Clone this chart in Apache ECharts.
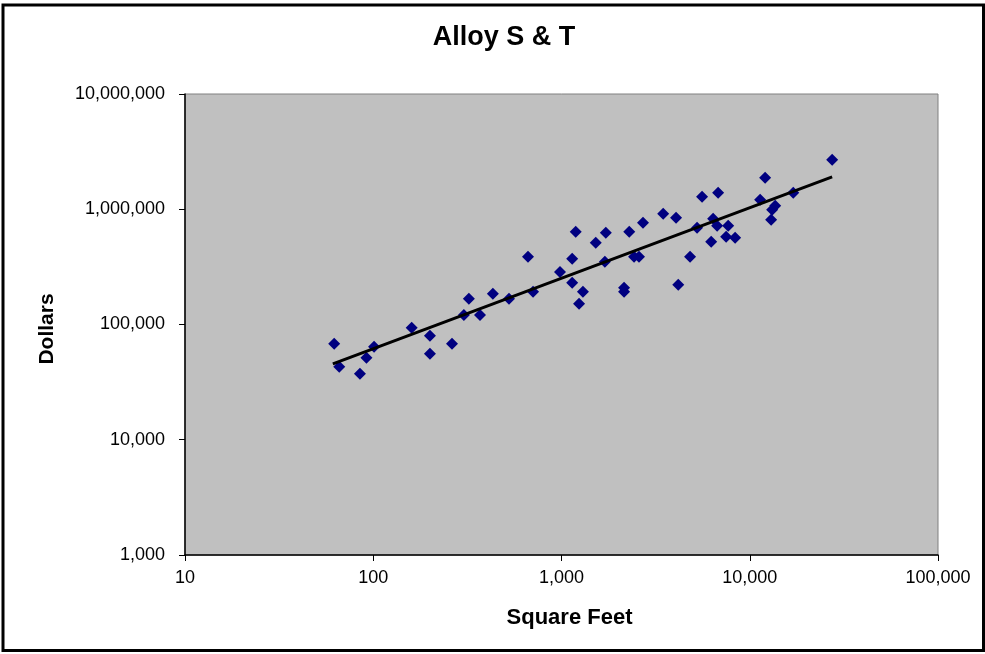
<!DOCTYPE html>
<html>
<head>
<meta charset="utf-8">
<title>Alloy S & T</title>
<script src="https://cdn.jsdelivr.net/npm/echarts@6/dist/echarts.min.js"></script>
<style>
  html, body { margin: 0; padding: 0; background: #fff; }
  #chart { width: 985px; height: 654px; }
</style>
</head>
<body>
<div id="chart"></div>
<script>
// square feet / dollars
var sqft = [62, 66, 85, 92, 101, 160, 200, 200, 262, 303, 322, 369, 432, 526, 664, 706,
  982, 1140, 1140, 1300, 1240, 1190, 1520, 1720, 1700, 2150, 2150, 2290, 2430, 2580,
  2710, 3470, 4060, 4170, 4820, 5250, 5580, 6240, 6390, 6790, 6710, 7680, 7490, 8360,
  11350, 12070, 13650, 13150, 12990, 17030, 27400];
var dollars = [68000, 43000, 37300, 51400, 64000, 93500, 79800, 55700, 68000, 121000, 167000,
  121000, 185000, 167000, 387000, 192000, 286000, 372000, 230000, 192000, 151000, 638000,
  512000, 625000, 350000, 208000, 192000, 638000, 387000, 387000, 764000, 914000, 843000,
  221000, 387000, 691000, 1283000, 522000, 827000, 1390000, 720000, 720000, 577000, 566000,
  1209000, 1877000, 1072000, 991000, 811000, 1390000, 2692000];
// power trendline ends
var trendX = [61, 27400];
var trendY = [45600, 1910000];

var fontFam = '"Liberation Sans", Arial, sans-serif';

function fmt(v) {
  return Math.round(v).toLocaleString('en-US');
}

var pts = [];
for (var i = 0; i < sqft.length; i++) {
  pts.push([sqft[i], dollars[i]]);
}
var trend = [];
for (var j = 0; j < trendX.length; j++) {
  trend.push([trendX[j], trendY[j]]);
}

var myChart = echarts.init(document.getElementById('chart'));
var option = {
  animation: false,
  backgroundColor: '#fff',
  title: {
    text: 'Alloy S & T',
    left: 499,
    textAlign: 'center',
    top: 19,
    textStyle: { fontFamily: fontFam, fontWeight: 'bold', fontSize: 27, color: '#000' }
  },
  grid: {
    left: 185, right: 47, top: 94, bottom: 99,
    show: true,
    backgroundColor: '#C0C0C0',
    borderColor: '#808080',
    borderWidth: 1
  },
  xAxis: {
    type: 'log',
    logBase: 10,
    min: 10,
    max: 100000,
    name: 'Square Feet',
    nameLocation: 'middle',
    nameGap: 52,
    nameTextStyle: { fontFamily: fontFam, fontWeight: 'bold', fontSize: 22, color: '#000', padding: [0, 0, 0, 16] },
    axisLine: { lineStyle: { color: '#000', width: 1.5 } },
    axisTick: { show: true, inside: false, length: 6, lineStyle: { color: '#000' } },
    axisLabel: { margin: 14, fontFamily: fontFam, fontSize: 18, color: '#000', formatter: fmt },
    splitLine: { show: false },
    minorTick: { show: false }
  },
  yAxis: {
    type: 'log',
    logBase: 10,
    min: 1000,
    max: 10000000,
    name: 'Dollars',
    nameLocation: 'middle',
    nameGap: 127,
    nameRotate: 90,
    nameTextStyle: { fontFamily: fontFam, fontWeight: 'bold', fontSize: 21, color: '#000', padding: [0, 9, 0, 0] },
    axisLine: { lineStyle: { color: '#000', width: 1.5 } },
    axisTick: { show: true, inside: false, length: 6, lineStyle: { color: '#000' } },
    axisLabel: { margin: 20, fontFamily: fontFam, fontSize: 18, color: '#000', formatter: fmt },
    splitLine: { show: false }
  },
  series: [
    {
      name: 'Dollars',
      type: 'scatter',
      symbol: 'diamond',
      symbolSize: 12,
      itemStyle: { color: '#000080', opacity: 1 },
      data: pts,
      z: 2
    },
    {
      name: 'Trend',
      type: 'line',
      symbol: 'none',
      lineStyle: { color: '#000', width: 3 },
      data: trend,
      z: 3
    }
  ],
  graphic: [{
    type: 'rect',
    shape: { x: 3, y: 5, width: 980.5, height: 645.5 },
    style: { fill: 'none', stroke: '#000', lineWidth: 3 },
    silent: true
  }]
};
myChart.setOption(option);
</script>
</body>
</html>
